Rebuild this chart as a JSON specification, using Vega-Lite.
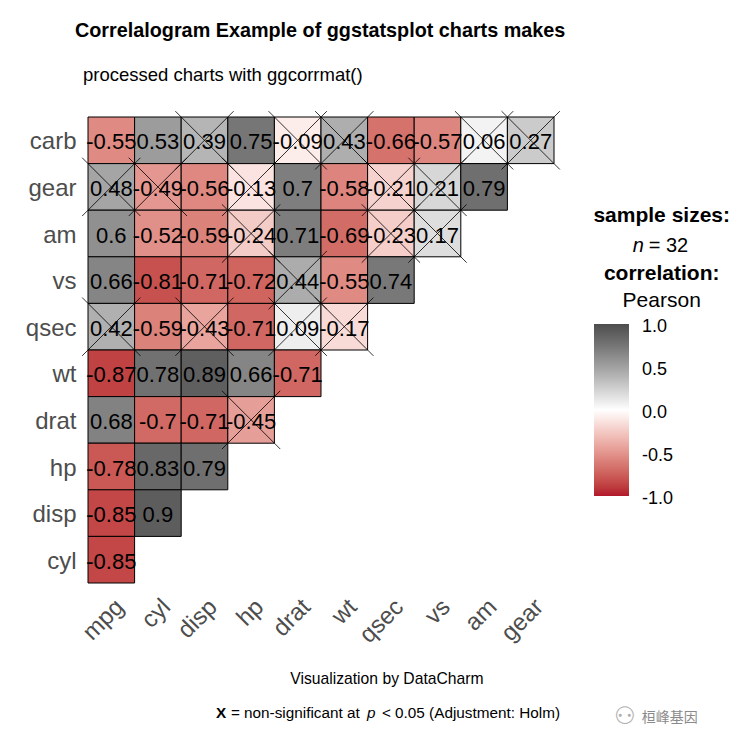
{
"$schema":"https://vega.github.io/schema/vega-lite/v6.json",
"width":466,"height":466,"autosize":"none",
"padding":{"left":88,"top":117,"right":182,"bottom":166},
"background":"white",
"title":{"text":"Correlalogram Example of ggstatsplot charts makes","subtitle":"processed charts with ggcorrmat()","anchor":"start","frame":"group","dx":-13,"offset":25,"font":"Liberation Sans","fontSize":19.8,"fontWeight":"bold","color":"black","subtitleFont":"Liberation Sans","subtitleFontSize":18.5,"subtitleColor":"black","subtitlePadding":25,"encode":{"subtitle":{"update":{"dx":{"value":-5}}}}},
"config":{"view":{"stroke":null},"font":"Liberation Sans"},
"datasets":{"cells":[
{"a":"mpg","b":"carb","r":-0.55,"ns":false},{"a":"cyl","b":"carb","r":0.53,"ns":false},{"a":"disp","b":"carb","r":0.39,"ns":true},{"a":"hp","b":"carb","r":0.75,"ns":false},{"a":"drat","b":"carb","r":-0.09,"ns":true},{"a":"wt","b":"carb","r":0.43,"ns":true},{"a":"qsec","b":"carb","r":-0.66,"ns":false},{"a":"vs","b":"carb","r":-0.57,"ns":false},{"a":"am","b":"carb","r":0.06,"ns":true},{"a":"gear","b":"carb","r":0.27,"ns":true},
{"a":"mpg","b":"gear","r":0.48,"ns":true},{"a":"cyl","b":"gear","r":-0.49,"ns":true},{"a":"disp","b":"gear","r":-0.56,"ns":false},{"a":"hp","b":"gear","r":-0.13,"ns":true},{"a":"drat","b":"gear","r":0.7,"ns":false},{"a":"wt","b":"gear","r":-0.58,"ns":false},{"a":"qsec","b":"gear","r":-0.21,"ns":true},{"a":"vs","b":"gear","r":0.21,"ns":true},{"a":"am","b":"gear","r":0.79,"ns":false},
{"a":"mpg","b":"am","r":0.6,"ns":false},{"a":"cyl","b":"am","r":-0.52,"ns":false},{"a":"disp","b":"am","r":-0.59,"ns":false},{"a":"hp","b":"am","r":-0.24,"ns":true},{"a":"drat","b":"am","r":0.71,"ns":false},{"a":"wt","b":"am","r":-0.69,"ns":false},{"a":"qsec","b":"am","r":-0.23,"ns":true},{"a":"vs","b":"am","r":0.17,"ns":true},
{"a":"mpg","b":"vs","r":0.66,"ns":false},{"a":"cyl","b":"vs","r":-0.81,"ns":false},{"a":"disp","b":"vs","r":-0.71,"ns":false},{"a":"hp","b":"vs","r":-0.72,"ns":false},{"a":"drat","b":"vs","r":0.44,"ns":true},{"a":"wt","b":"vs","r":-0.55,"ns":false},{"a":"qsec","b":"vs","r":0.74,"ns":false},
{"a":"mpg","b":"qsec","r":0.42,"ns":true},{"a":"cyl","b":"qsec","r":-0.59,"ns":false},{"a":"disp","b":"qsec","r":-0.43,"ns":true},{"a":"hp","b":"qsec","r":-0.71,"ns":false},{"a":"drat","b":"qsec","r":0.09,"ns":true},{"a":"wt","b":"qsec","r":-0.17,"ns":true},
{"a":"mpg","b":"wt","r":-0.87,"ns":false},{"a":"cyl","b":"wt","r":0.78,"ns":false},{"a":"disp","b":"wt","r":0.89,"ns":false},{"a":"hp","b":"wt","r":0.66,"ns":false},{"a":"drat","b":"wt","r":-0.71,"ns":false},
{"a":"mpg","b":"drat","r":0.68,"ns":false},{"a":"cyl","b":"drat","r":-0.7,"ns":false},{"a":"disp","b":"drat","r":-0.71,"ns":false},{"a":"hp","b":"drat","r":-0.45,"ns":true},
{"a":"mpg","b":"hp","r":-0.78,"ns":false},{"a":"cyl","b":"hp","r":0.83,"ns":false},{"a":"disp","b":"hp","r":0.79,"ns":false},
{"a":"mpg","b":"disp","r":-0.85,"ns":false},{"a":"cyl","b":"disp","r":0.9,"ns":false},
{"a":"mpg","b":"cyl","r":-0.85,"ns":false}
]},
"data":{"name":"cells"},
"encoding":{
"x":{"field":"a","type":"nominal","title":null,"sort":["mpg","cyl","disp","hp","drat","wt","qsec","vs","am","gear"],"scale":{"domain":["mpg","cyl","disp","hp","drat","wt","qsec","vs","am","gear"],"paddingInner":0,"paddingOuter":0},"axis":{"domain":false,"ticks":false,"grid":false,"labelAngle":-45,"labelAlign":"right","labelBaseline":"middle","labelFontSize":24,"labelColor":"#4d4d4d","labelPadding":20,"labelOffset":9,"labelFont":"Liberation Sans"}},
"y":{"field":"b","type":"nominal","title":null,"sort":["carb","gear","am","vs","qsec","wt","drat","hp","disp","cyl"],"scale":{"domain":["carb","gear","am","vs","qsec","wt","drat","hp","disp","cyl"],"paddingInner":0,"paddingOuter":0},"axis":{"domain":false,"ticks":false,"grid":false,"labelFontSize":24,"labelColor":"#4d4d4d","labelPadding":12,"labelOffset":2,"labelFont":"Liberation Sans"}}
},
"layer":[
{"mark":{"type":"rect","stroke":"black","strokeWidth":1},
"encoding":{"color":{"field":"r","type":"quantitative","title":null,"scale":{"domain":[-1,0,1],"range":["#b2182b","#ffffff","#4d4d4d"],"interpolate":"lab"},
"legend":{"orient":"none","legendX":506,"legendY":207,"gradientLength":172,"gradientThickness":35,"direction":"vertical","values":[-1,-0.5,0,0.5,1],"labelExpr":"replace(format(datum.value,'.1f'),'−','-')","labelFontSize":18,"labelColor":"black","labelOffset":13,"labelFont":"Liberation Sans","gradientStrokeWidth":0,"encode":{"labels":{"update":{"baseline":{"value":"middle"},"dy":{"value":3}}}}}}}},
{"transform":[{"filter":"datum.ns"}],"mark":{"type":"point","shape":"M-1,-1L1,1M-1,1L1,-1","size":3400,"stroke":"black","strokeWidth":0.8,"filled":false,"opacity":1,"clip":false}},
{"mark":{"type":"text","font":"Liberation Sans","fontSize":22,"color":"black","dy":2},"encoding":{"text":{"field":"r","type":"nominal"}}},
{"data":{"values":[{"note":"sample sizes:"}]},"mark":{"type":"text","align":"center","baseline":"middle","dx":131,"dy":-18,"font":"Liberation Sans","fontSize":21,"fontWeight":"bold","color":"black"},"encoding":{"x":{"datum":"gear"},"y":{"datum":"am"},"text":{"field":"note"}}},
{"data":{"values":[{"note":"n"}]},"mark":{"type":"text","align":"left","baseline":"middle","dx":102,"dy":12,"font":"Liberation Sans","fontSize":20,"fontStyle":"italic","color":"black"},"encoding":{"x":{"datum":"gear"},"y":{"datum":"am"},"text":{"field":"note"}}},
{"data":{"values":[{"note":"= 32"}]},"mark":{"type":"text","align":"left","baseline":"middle","dx":118,"dy":12,"font":"Liberation Sans","fontSize":20,"color":"black"},"encoding":{"x":{"datum":"gear"},"y":{"datum":"am"},"text":{"field":"note"}}},
{"data":{"values":[{"note":"correlation:"}]},"mark":{"type":"text","align":"center","baseline":"middle","dx":131,"dy":-6,"font":"Liberation Sans","fontSize":21,"fontWeight":"bold","color":"black"},"encoding":{"x":{"datum":"gear"},"y":{"datum":"vs"},"text":{"field":"note"}}},
{"data":{"values":[{"note":"Pearson"}]},"mark":{"type":"text","align":"center","baseline":"middle","dx":131,"dy":21,"font":"Liberation Sans","fontSize":21,"color":"black"},"encoding":{"x":{"datum":"gear"},"y":{"datum":"vs"},"text":{"field":"note"}}},
{"data":{"values":[{"note":"Visualization by DataCharm"}]},"mark":{"type":"text","align":"center","baseline":"middle","dx":-4,"dy":119,"font":"Liberation Sans","fontSize":15.7,"color":"black"},"encoding":{"x":{"datum":"qsec"},"y":{"datum":"cyl"},"text":{"field":"note"}}},
{"data":{"values":[{"note":"X"}]},"mark":{"type":"text","align":"left","baseline":"middle","dx":-175,"dy":153,"font":"Liberation Sans","fontSize":15.3,"fontWeight":"bold","color":"black"},"encoding":{"x":{"datum":"qsec"},"y":{"datum":"cyl"},"text":{"field":"note"}}},
{"data":{"values":[{"note":"= non-significant at"}]},"mark":{"type":"text","align":"left","baseline":"middle","dx":-160,"dy":153,"font":"Liberation Sans","fontSize":15.3,"color":"black"},"encoding":{"x":{"datum":"qsec"},"y":{"datum":"cyl"},"text":{"field":"note"}}},
{"data":{"values":[{"note":"p"}]},"mark":{"type":"text","align":"left","baseline":"middle","dx":-24,"dy":153,"font":"Liberation Sans","fontSize":15.3,"fontStyle":"italic","color":"black"},"encoding":{"x":{"datum":"qsec"},"y":{"datum":"cyl"},"text":{"field":"note"}}},
{"data":{"values":[{"note":"< 0.05 (Adjustment: Holm)"}]},"mark":{"type":"text","align":"left","baseline":"middle","dx":-9,"dy":153,"font":"Liberation Sans","fontSize":15.3,"color":"black"},"encoding":{"x":{"datum":"qsec"},"y":{"datum":"cyl"},"text":{"field":"note"}}},
{"data":{"values":[{"note":"桓峰基因"}]},"mark":{"type":"text","align":"left","baseline":"middle","dx":111,"dy":158,"font":"Noto Sans CJK SC","fontSize":14,"color":"#8a8a8a"},"encoding":{"x":{"datum":"gear"},"y":{"datum":"cyl"},"text":{"field":"note"}}},
{"data":{"values":[{"note":"⚇"}]},"mark":{"type":"text","align":"center","baseline":"middle","dx":94,"dy":157,"font":"DejaVu Sans","fontSize":24,"color":"#b0b0b0"},"encoding":{"x":{"datum":"gear"},"y":{"datum":"cyl"},"text":{"field":"note"}}}
]
}
